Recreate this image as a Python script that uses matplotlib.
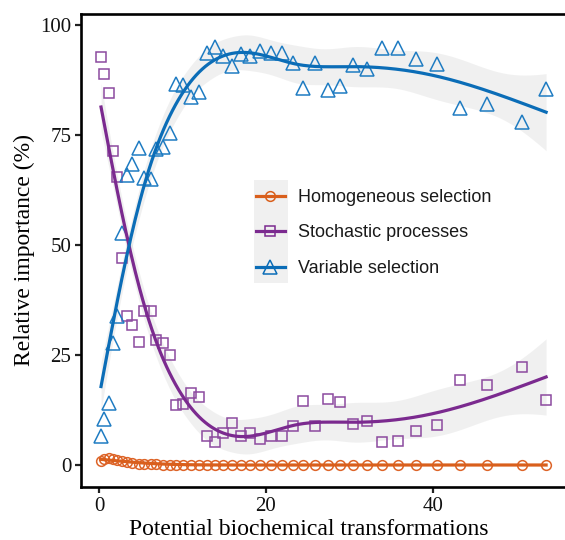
import numpy as np
import matplotlib
matplotlib.use("Agg")
import matplotlib.pyplot as plt
from matplotlib.lines import Line2D
from matplotlib.patches import Rectangle

# Data (x shared by all three fractions)
transformations = [0.24, 0.6, 1.2, 1.7, 2.2, 2.8, 3.3, 4.0, 4.8, 5.4,
                   6.2, 6.8, 7.7, 8.5, 9.2, 10.1, 11.0, 12.0, 12.9, 13.9,
                   14.9, 15.9, 17.0, 18.1, 19.3, 20.6, 21.9, 23.2, 24.5, 25.9,
                   27.4, 28.9, 30.4, 32.1, 33.9, 35.8, 38.0, 40.5, 43.3, 46.5,
                   50.7, 53.6]
homogeneous = [1.0, 1.3, 1.6, 1.4, 1.1, 0.8, 0.6, 0.4, 0.3, 0.3,
               0.2, 0.2, 0.1, 0.1, 0.1, 0.1, 0.1, 0.1, 0.1, 0.1,
               0.0, 0.0, 0.0, 0.0, 0.0, 0.0, 0.0, 0.0, 0.0, 0.0,
               0.0, 0.0, 0.0, 0.0, 0.0, 0.0, 0.0, 0.0, 0.0, 0.0,
               0.0, 0.0]
stochastic = [92.7, 88.9, 84.5, 71.4, 65.5, 47.0, 33.9, 31.8, 28.0, 35.0,
              35.0, 28.4, 27.7, 25.0, 13.6, 13.8, 16.4, 15.5, 6.7, 5.3,
              7.2, 9.5, 6.7, 7.2, 5.9, 6.6, 6.6, 8.9, 14.6, 8.9,
              14.9, 14.3, 9.3, 10.1, 5.3, 5.5, 7.8, 9.2, 19.3, 18.1,
              22.2, 14.7]
variable = [6.6, 10.5, 14.1, 27.7, 33.9, 52.7, 65.8, 68.4, 72.1, 65.3,
            64.9, 71.8, 72.3, 75.4, 86.5, 86.4, 83.7, 84.7, 93.6, 95.0,
            92.9, 90.7, 93.5, 93.0, 94.2, 93.7, 93.6, 91.3, 85.7, 91.4,
            85.3, 86.1, 91.0, 90.1, 94.8, 94.8, 92.3, 91.1, 81.1, 82.0,
            78.0, 85.5]

labels = ["Homogeneous selection", "Stochastic processes", "Variable selection"]
line_cols = ["#d95f1c", "#7b2a8f", "#0b6db7"]
mark_cols = ["#dd6428", "#8c4a9f", "#1f7cc2"]
markers = ["o", "s", "^"]
msizes = [7, 7, 9.5]


def smooth_fit(x, y, grid, n_knots=10, target_edf=6.0):
    # natural cubic regression spline (knots at quantiles), f'' penalty
    lo, hi = x.min(), x.max()
    u = (x - lo) / (hi - lo)
    ug = (grid - lo) / (hi - lo)
    kn = np.quantile(u, np.linspace(0, 1, n_knots))
    K = len(kn)

    def d(t, k, p):
        if p == 0:
            return (np.clip(t - kn[k], 0, None) ** 3 - np.clip(t - kn[-1], 0, None) ** 3) / (kn[-1] - kn[k])
        return 6 * (np.clip(t - kn[k], 0, None) - np.clip(t - kn[-1], 0, None)) / (kn[-1] - kn[k])

    def basis(t, p=0):
        if p == 0:
            cols = [np.ones_like(t), t]
        else:
            cols = [np.zeros_like(t), np.zeros_like(t)]
        cols += [d(t, k, p) - d(t, K - 2, p) for k in range(K - 2)]
        return np.column_stack(cols)

    X = basis(u)
    Xg = basis(ug)
    tt = np.linspace(0, 1, 2001)
    B2 = basis(tt, 2)
    S = (B2.T * (tt[1] - tt[0])) @ B2
    n = len(y)
    best = None
    for lam in np.logspace(-9, 1, 300):
        Ai = np.linalg.inv(X.T @ X + lam * S)
        edf = np.trace(X @ Ai @ X.T)
        if best is None or abs(edf - target_edf) < best[0]:
            best = (abs(edf - target_edf), Ai, edf)
    _, Ai, edf = best
    beta = Ai @ X.T @ y
    rss = np.sum((y - X @ beta) ** 2)
    sigma2 = rss / (n - edf)
    se = np.sqrt(sigma2 * np.einsum("ij,jk,ik->i", Xg, Ai, Xg))
    return Xg @ beta, se


fig = plt.figure(figsize=(5.65, 5.4), dpi=100)
ax = fig.add_axes([81 / 565, 53 / 540, 1.0 - 81 / 565 + 0.002, 473 / 540])

x = np.array(transformations)
grid = np.linspace(x.min(), x.max(), 300)
series = [np.array(homogeneous), np.array(stochastic), np.array(variable)]

fits = []
for y in series:
    yg, se = smooth_fit(x, y, grid)
    fits.append(yg)
    ax.fill_between(grid, yg - 1.7 * se, yg + 1.7 * se, color="#9a9a9a",
                    alpha=0.14, linewidth=0, zorder=1)

for y, mc, mk, ms in zip(series, mark_cols, markers, msizes):
    ax.plot(x, y, linestyle="none", marker=mk, markersize=ms,
            markerfacecolor="none", markeredgecolor=mc, markeredgewidth=1.1,
            zorder=2)

for yg, lc in zip(fits, line_cols):
    ax.plot(grid, yg, color=lc, linewidth=2.3, zorder=3)

ax.set_xlim(-2.16, 56.0)
ax.set_ylim(-5.0, 102.5)
ax.set_xticks([0, 20, 40])
ax.set_yticks([0, 25, 50, 75, 100])

serif = ["Liberation Serif", "DejaVu Serif"]
for lab in ax.get_xticklabels() + ax.get_yticklabels():
    lab.set_family(serif)
    lab.set_fontsize(15)
ax.tick_params(direction="out", length=4, width=1.6, colors="#222222",
               labelcolor="#111111", pad=3)
ax.set_xlabel("Potential biochemical transformations", family=serif,
              fontsize=17)
ax.set_ylabel("Relative importance (%)", family=serif, fontsize=17)
ax.xaxis.set_label_coords((308 - 81) / (565 - 81), -0.068)
ax.yaxis.set_label_coords(-0.094, 0.5)

for side in ["left", "bottom", "top"]:
    ax.spines[side].set_linewidth(1.9)
    ax.spines[side].set_color("black")
ax.spines["right"].set_visible(False)

# grey key background, ggplot style
fig.patches.append(Rectangle((254 / 565, (540 - 283) / 540), 34 / 565, 103 / 540,
                             transform=fig.transFigure, facecolor="#f0f0f0",
                             edgecolor="none", zorder=4))

handles = [Line2D([], [], color=lc, linewidth=2.3, marker=mk, markersize=ms,
                  markerfacecolor="none", markeredgecolor=lc,
                  markeredgewidth=1.1)
           for lc, mk, ms in zip(line_cols, markers, msizes)]
leg = fig.legend(handles, labels, loc="upper left",
                 bbox_to_anchor=(256 / 565, (540 - 189) / 540),
                 frameon=False, borderpad=0, borderaxespad=0,
                 handlelength=1.6, handletextpad=0.75, labelspacing=1.02,
                 prop={"family": ["Liberation Sans", "DejaVu Sans"], "size": 13})
leg.set_zorder(5)
for t in leg.get_texts():
    t.set_color("#1a1a1a")

fig.savefig("out.png", dpi=100)
